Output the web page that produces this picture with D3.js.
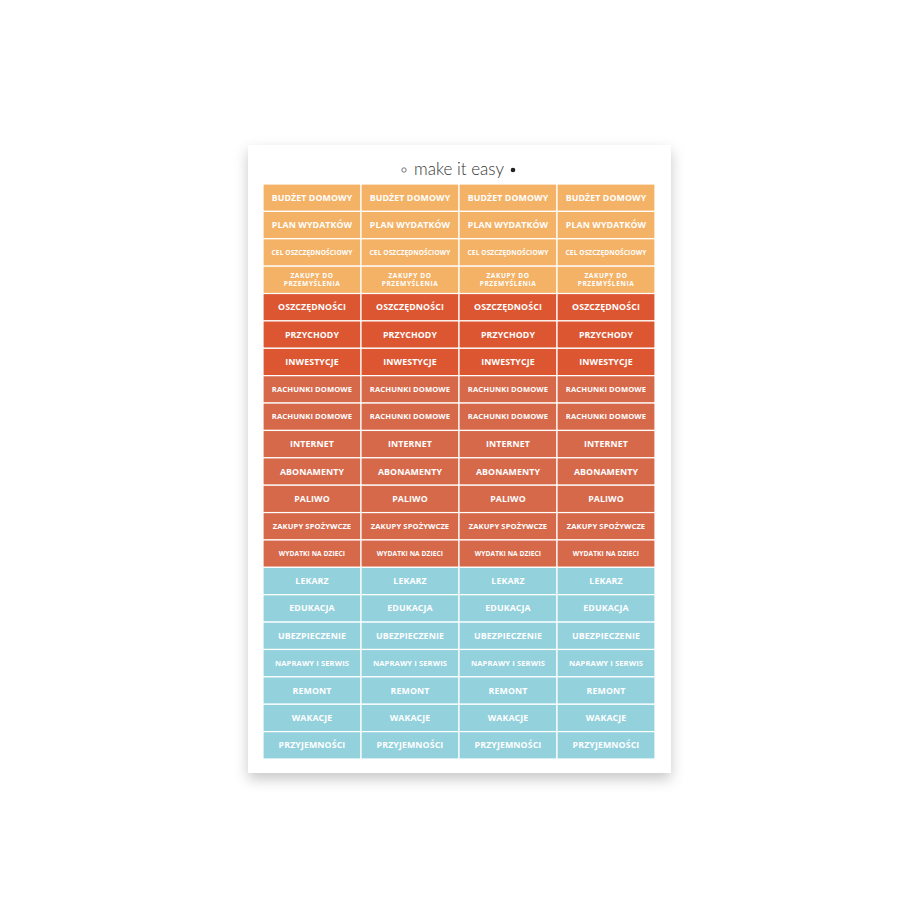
<!DOCTYPE html>
<html>
<head>
<meta charset="utf-8">
<script src="https://cdn.jsdelivr.net/npm/d3@7"></script>
<style>
  body { margin: 0; background: #fff; }
</style>
</head>
<body>
<div id="sheet"></div>
<script>
// sticker labels, top to bottom
var labels = [
  "BUDŻET DOMOWY", "PLAN WYDATKÓW", "CEL OSZCZĘDNOŚCIOWY", "ZAKUPY DO|PRZEMYŚLENIA",
  "OSZCZĘDNOŚCI", "PRZYCHODY", "INWESTYCJE",
  "RACHUNKI DOMOWE", "RACHUNKI DOMOWE", "INTERNET", "ABONAMENTY", "PALIWO",
  "ZAKUPY SPOŻYWCZE", "WYDATKI NA DZIECI",
  "LEKARZ", "EDUKACJA", "UBEZPIECZENIE", "NAPRAWY I SERWIS", "REMONT", "WAKACJE", "PRZYJEMNOŚCI"
];
// colour group per row
var groups = ["a","a","a","a","b","b","b","c","c","c","c","c","c","c","d","d","d","d","d","d","d"];
var columns = [0, 1, 2, 3];
var title = "make it easy";

var colors = { a: "#f4b266", b: "#dd5632", c: "#d7694b", d: "#93d1dd" };

var svg = d3.select("#sheet").append("svg")
  .attr("width", 920)
  .attr("height", 920);

var defs = svg.append("defs");
var f = defs.append("filter").attr("id", "shadow")
  .attr("x", "-10%").attr("y", "-10%").attr("width", "120%").attr("height", "125%");
f.append("feDropShadow").attr("dx", 0).attr("dy", 6).attr("stdDeviation", 7)
  .attr("flood-color", "#000").attr("flood-opacity", 0.22);

// paper
svg.append("rect")
  .attr("x", 248).attr("y", 145).attr("width", 423).attr("height", 628)
  .attr("fill", "#fff")
  .attr("filter", "url(#shadow)");

// title
var t = svg.append("g").attr("transform", "translate(459, 170)");
t.append("text")
  .attr("text-anchor", "middle")
  .attr("y", 5)
  .style("font-family", "Lato, 'DejaVu Sans', sans-serif")
  .style("font-weight", 300)
  .style("font-size", "17px")
  .attr("fill", "#333")
  .text(title);
t.append("circle").attr("cx", -55).attr("cy", 0).attr("r", 2.2)
  .attr("fill", "none").attr("stroke", "#555").attr("stroke-width", 0.8);
t.append("circle").attr("cx", 54).attr("cy", 0).attr("r", 2.3).attr("fill", "#222");

var x = d3.scaleBand().domain(columns).range([263, 655]).paddingInner(0);
var y = d3.scaleBand().domain(d3.range(labels.length)).range([184, 759]).paddingInner(0);

var cells = [];
labels.forEach(function(l, i) {
  columns.forEach(function(c) { cells.push({ row: i, col: c, label: l, group: groups[i] }); });
});

var cell = svg.append("g").selectAll("g")
  .data(cells)
  .enter()
  .append("g")
  .attr("transform", d => `translate(${x(d.col)}, ${y(d.row)})`);

cell.append("rect")
  .attr("width", x.bandwidth())
  .attr("height", y.bandwidth())
  .attr("fill", d => colors[d.group])
  .attr("stroke", "#fff")
  .attr("stroke-width", 1.2);

cell.each(function(d) {
  var lines = d.label.split("|");
  var len = d3.max(lines, s => s.length);
  var size = lines.length > 1 ? 6.6 : len > 16 ? 6.6 : len > 13 ? 7.6 : 8.8;
  var text = d3.select(this).append("text")
    .attr("x", x.bandwidth() / 2)
    .attr("text-anchor", "middle")
    .attr("fill", "#fff")
    .style("font-family", "'Open Sans', 'DejaVu Sans', sans-serif")
    .style("font-weight", 700)
    .style("font-size", size + "px")
    .style("letter-spacing", lines.length > 1 ? "0.6px" : "0.1px");
  lines.forEach(function(s, k) {
    text.append("tspan")
      .attr("x", x.bandwidth() / 2)
      .attr("y", y.bandwidth() / 2 + (k - (lines.length - 1) / 2) * 8.4)
      .attr("dy", "0.35em")
      .text(s);
  });
});
</script>
</body>
</html>
